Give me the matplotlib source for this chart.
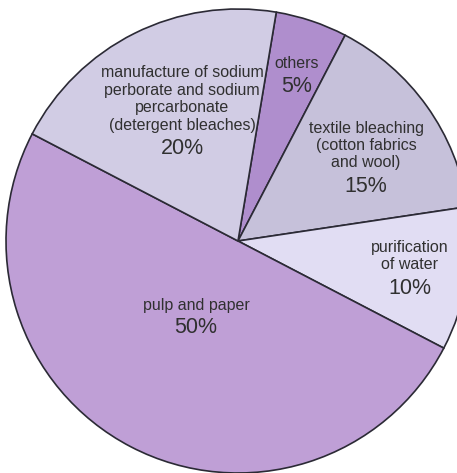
import numpy as np
import matplotlib.pyplot as plt

plt.rcParams['font.family'] = ['Liberation Sans', 'DejaVu Sans']

# slices, clockwise starting at the top
labels = ["others", "textile bleaching\n(cotton fabrics\nand wool)",
          "purification\nof water", "pulp and paper",
          "manufacture of sodium\nperborate and sodium\npercarbonate\n(detergent bleaches)"]
shares = [5, 15, 10, 50, 20]
colors = ["#af8ecd", "#c6c1da", "#e1ddf3", "#bf9fd6", "#d1cce4"]

# label / percentage positions (data units, pie radius = 1)
label_xy = [(0.254, 0.767), (0.552, 0.412), (0.741, -0.065),
            (-0.181, -0.280), (-0.241, 0.612)]
pct_xy = [(0.254, 0.664), (0.552, 0.237), (0.741, -0.203),
          (-0.181, -0.371), (-0.241, 0.400)]

fig = plt.figure(figsize=(4.57, 4.73), dpi=100)
ax = fig.add_axes([6 / 457, 0, 464 / 457, 464 / 473])

ax.pie(shares, colors=colors, startangle=80.5, counterclock=False,
       wedgeprops=dict(edgecolor="#2b2a35", linewidth=1.2))
ax.set_aspect('auto')
ax.set_xlim(-1, 1)
ax.set_ylim(-1, 1)
ax.axis('off')

for lab, s, (lx, ly), (px, py) in zip(labels, shares, label_xy, pct_xy):
    ax.text(lx, ly, lab, ha='center', va='center', fontsize=11.5,
            color="#303030", linespacing=1.2)
    ax.text(px, py, f"{s}%", ha='center', va='center', fontsize=15.5,
            color="#303030")

fig.savefig("out.png", dpi=100)
